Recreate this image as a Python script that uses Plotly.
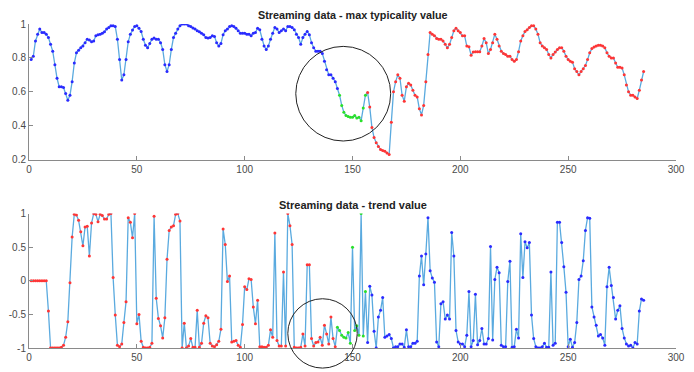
import plotly.graph_objects as go

# ---------------- data ----------------
x_idx = list(range(1, 286))

typicality = [
    0.79, 0.81, 0.90, 0.94, 0.97, 0.95, 0.95, 0.94, 0.92, 0.88,
    0.84, 0.76, 0.68, 0.63, 0.63, 0.625, 0.59, 0.55, 0.58, 0.66,
    0.77, 0.83, 0.845, 0.86, 0.87, 0.89, 0.91, 0.905, 0.895, 0.90,
    0.93, 0.937, 0.94, 0.946, 0.954, 0.97, 0.98, 0.99, 0.99, 0.985,
    0.91, 0.79, 0.67, 0.70, 0.79, 0.895, 0.94, 0.965, 0.985, 0.99,
    0.975, 0.956, 0.91, 0.875, 0.86, 0.885, 0.91, 0.918, 0.91, 0.91,
    0.89, 0.85, 0.76, 0.72, 0.76, 0.85, 0.92, 0.946, 0.97, 0.99,
    1.0, 1.0, 1.0, 0.99, 0.985, 0.977, 0.97, 0.96, 0.954, 0.946,
    0.937, 0.92, 0.918, 0.92, 0.93, 0.927, 0.89, 0.87, 0.885, 0.937,
    0.96, 0.97, 0.985, 0.99, 0.985, 0.975, 0.96, 0.946, 0.946, 0.946,
    0.94, 0.94, 0.93, 0.946, 0.95, 0.975, 0.966, 0.91, 0.87, 0.85,
    0.87, 0.91, 0.946, 0.98, 0.97, 0.95, 0.96, 0.97, 0.96, 0.985,
    0.985, 0.98, 0.966, 0.94, 0.92, 0.88, 0.92, 0.94, 0.956, 0.937,
    0.89, 0.86, 0.84, 0.84, 0.84, 0.826, 0.78, 0.73, 0.70, 0.70,
    0.68, 0.66, 0.62, 0.58, 0.52, 0.48, 0.46, 0.455, 0.45, 0.45,
    0.46, 0.445, 0.45, 0.43, 0.505, 0.58, 0.596, 0.51, 0.39, 0.33,
    0.30, 0.277, 0.26, 0.254, 0.25, 0.24, 0.23, 0.42, 0.60, 0.66,
    0.70, 0.68, 0.58, 0.545, 0.63, 0.65, 0.64, 0.61, 0.58, 0.57,
    0.50, 0.464, 0.52, 0.66, 0.82, 0.95, 0.94, 0.93, 0.915, 0.91,
    0.91, 0.90, 0.88, 0.86, 0.88, 0.92, 0.96, 0.975, 0.96, 0.95,
    0.93, 0.93, 0.87, 0.866, 0.816, 0.835, 0.837, 0.837, 0.837, 0.87,
    0.914, 0.89, 0.826, 0.85, 0.89, 0.94, 0.91, 0.87, 0.84, 0.826,
    0.82, 0.81, 0.81, 0.79, 0.78, 0.79, 0.837, 0.90, 0.93, 0.956,
    0.966, 0.98, 0.99, 0.99, 0.97, 0.94, 0.89, 0.87, 0.86, 0.85,
    0.82, 0.80, 0.82, 0.835, 0.85, 0.86, 0.86, 0.84, 0.81, 0.79,
    0.78, 0.775, 0.736, 0.72, 0.70, 0.72, 0.736, 0.755, 0.79, 0.83,
    0.855, 0.864, 0.87, 0.875, 0.875, 0.87, 0.86, 0.83, 0.81, 0.80,
    0.80, 0.77, 0.745, 0.745, 0.74, 0.70, 0.64, 0.60, 0.58, 0.58,
    0.57, 0.56, 0.61, 0.67, 0.72,
]

trend = [
    0, 0, 0, 0, 0, 0, 0, 0, -0.45, -1,
    -1, -1, -1, -1, -0.99, -0.96, -0.84, -0.61, -0.03, 0.65,
    0.99, 0.98, 0.90, 0.73, 0.52, 0.80, 0.81, 0.37, 0.86, 1.0,
    0.99, 0.88, 0.99, 0.97, 0.92, 0.92, 0.99, 1.0, 0.05, -0.51,
    -0.96, -0.98, -0.94, -0.62, -0.31, 0.94, 0.87, 0.64, 1.0, -0.64,
    -0.5, -0.90, -0.99, -1, -1, -0.99, -0.93, 0.96, -0.26, -0.56,
    -0.67, -0.85, -0.55, 0.32, 0.75, 0.80, 0.82, 0.99, 1.0, 0.89,
    -1, -0.63, -1, -0.97, -0.86, -0.99, -0.99, -0.44, -0.99, -0.93,
    -0.63, -0.52, -0.55, -0.93, -0.97, -0.98, -0.95, -0.90, -0.72, 0.77,
    0.54, -0.01, 0.07, -0.91, -0.90, -0.89, -0.96, -0.99, -0.65, -0.09,
    -0.13, 0.03, 0.02, -0.39, -0.64, -0.29, -0.98, -0.98, -0.99, -0.99,
    -0.96, -0.73, -0.84, 0.71, -0.89, -0.97, -0.97, 0.13, -0.97, 1.0,
    0.82, 0.54, -0.99, -1, -1, -0.99, -0.79, -0.97, 0.24, 0.24,
    -0.86, -0.97, -0.92, -0.91, -0.84, -0.96, -0.66, -0.79, -0.94, -0.54,
    -0.86, -0.98, -0.69, -0.74, -0.81, -0.84, -0.85, -0.77, -0.93, 0.50,
    -0.74, -0.67, -0.81, 1.0, -0.82, -0.16, -0.92, -0.08, -0.21, -0.75,
    -1, -0.54, -0.44, -0.25, -0.84, -0.82, -0.80, -0.86, -1, -0.98,
    -0.98, -0.94, -0.94, -0.99, -0.73, -0.98, -0.98, -0.93, -0.93, -0.90,
    0.07, 0.37, -0.06, 0.40, 0.94, 0.15, 0.04, -0.02, -0.91, -0.98,
    -0.34, -0.31, -0.57, -0.51, -0.57, 0.72, 0.37, -0.74, -0.91, -0.94,
    -0.94, -0.98, -0.81, -0.16, -0.98, -0.89, -0.20, -0.95, -0.89, -0.71,
    -0.94, -0.94, -0.86, 0.51, -0.88, 0.02, 0.20, 0.12, -0.96, -0.98,
    -0.98, -0.01, 0.29, -0.99, -0.98, -0.72, -0.85, 0.70, 0.05, 0.58,
    0.49, 0.57, -0.51, -0.86, -0.98, -1, -1, -0.98, -0.93, -0.99,
    -0.99, 0.13, -0.96, -0.93, 0.87, 0.87, 0.57, 0.21, -0.17, -0.98,
    -0.87, -0.99, -0.92, -0.62, 0.02, 0.07, 0.30, 0.75, 0.94, 0.93,
    -0.39, -0.54, -0.66, -0.82, -0.80, -0.85, -0.96, -0.09, 0.20, -0.07,
    -0.25, -0.57, -0.44, -0.37, -0.71, -0.85, -0.94, -0.97, -0.96, -1,
    -0.92, -0.94, -0.45, -0.27, -0.29,
]

# segment boundaries (1-based sample index where colour changes)
top_green_start, top_red_start = 144, 157
bot_green_start, bot_blue_start = 143, 157

x_ticks = [0, 50, 100, 150, 200, 250, 300]
top_y_ticks = [0.2, 0.4, 0.6, 0.8, 1]
top_y_text = ["0.2", "0.4", "0.6", "0.8", "1"]
bot_y_ticks = [-1, -0.5, 0, 0.5, 1]
bot_y_text = ["-1", "-0.5", "0", "0.5", "1"]

titles = ["Streaming data - max typicality value", "Streaming data - trend value"]

# highlight circles: (centre x, centre y, radius x, radius y) in data units
top_circle = (145.7, 0.589, 22.0, 0.279)
bot_circle = (136.1, -0.783, 16.1, 0.516)

# ---------------- styling ----------------
LINE = "#5aaadf"
BLUE = "#2a2aff"
RED = "#ff3535"
GREEN = "#2ae02a"
AX = "#8a8a8a"
TXT = "#4a4a4a"
FONT = "Liberation Sans, Arial, sans-serif"

W, H = 694, 372
M = dict(l=24, r=9, t=24, b=16)
top_dom = [0.5813, 1.0]
bot_dom = [0.0, 0.4148]
X_RANGE = [0, 300]
TOP_RANGE = [0.2, 1]
BOT_RANGE = [-1, 1]


def seg(xs, ys, a, b):
    return xs[a - 1:b - 1], ys[a - 1:b - 1]


fig = go.Figure()

# top chart
fig.add_trace(go.Scatter(x=x_idx, y=typicality, mode="lines",
                         line=dict(color=LINE, width=1.3),
                         xaxis="x", yaxis="y", showlegend=False))
n = len(x_idx) + 1
for (a, b, c) in [(1, top_green_start, BLUE), (top_green_start, top_red_start, GREEN), (top_red_start, n, RED)]:
    xs, ys = seg(x_idx, typicality, a, b)
    fig.add_trace(go.Scatter(x=xs, y=ys, mode="markers",
                             marker=dict(color=c, size=3, line=dict(width=0)),
                             xaxis="x", yaxis="y", showlegend=False))

# bottom chart
fig.add_trace(go.Scatter(x=x_idx, y=trend, mode="lines",
                         line=dict(color=LINE, width=1.3),
                         xaxis="x2", yaxis="y2", showlegend=False))
for (a, b, c) in [(1, bot_green_start, RED), (bot_green_start, bot_blue_start, GREEN), (bot_blue_start, n, BLUE)]:
    xs, ys = seg(x_idx, trend, a, b)
    fig.add_trace(go.Scatter(x=xs, y=ys, mode="markers",
                             marker=dict(color=c, size=3, line=dict(width=0)),
                             xaxis="x2", yaxis="y2", showlegend=False))

axis_common = dict(showgrid=False, zeroline=False, showline=True, linecolor=AX,
                   linewidth=1, ticks="inside", ticklen=4, tickcolor=AX,
                   tickfont=dict(family=FONT, size=10, color=TXT), mirror=False)

fig.update_layout(
    width=W, height=H, margin=M,
    paper_bgcolor="white", plot_bgcolor="white",
    xaxis=dict(domain=[0, 1], range=X_RANGE, tickvals=x_ticks, anchor="y", **axis_common),
    yaxis=dict(domain=top_dom, range=TOP_RANGE, tickvals=top_y_ticks, ticktext=top_y_text,
               anchor="x", **axis_common),
    xaxis2=dict(domain=[0, 1], range=X_RANGE, tickvals=x_ticks, anchor="y2", **axis_common),
    yaxis2=dict(domain=bot_dom, range=BOT_RANGE, tickvals=bot_y_ticks, ticktext=bot_y_text,
                anchor="x2", **axis_common),
)


def to_paper_y(v, rng, dom):
    return dom[0] + (v - rng[0]) / (rng[1] - rng[0]) * (dom[1] - dom[0])


def to_paper_x(v):
    return (v - X_RANGE[0]) / (X_RANGE[1] - X_RANGE[0])


for (cx, cy, rx, ry), rng, dom in [(top_circle, TOP_RANGE, top_dom), (bot_circle, BOT_RANGE, bot_dom)]:
    fig.add_shape(type="circle", xref="paper", yref="paper",
                  x0=to_paper_x(cx - rx), x1=to_paper_x(cx + rx),
                  y0=to_paper_y(cy - ry, rng, dom), y1=to_paper_y(cy + ry, rng, dom),
                  line=dict(color="#222222", width=1))

plot_h = H - M["t"] - M["b"]
for title, ypix, fs in zip(titles, [15, 209], [10.8, 11]):
    fig.add_annotation(text="<b>%s</b>" % title, xref="paper", yref="paper",
                       x=0.5, y=(H - M["b"] - ypix) / plot_h, xanchor="center", yanchor="middle",
                       showarrow=False, font=dict(family=FONT, size=fs, color="#222222"))

fig.write_html("out.html")
